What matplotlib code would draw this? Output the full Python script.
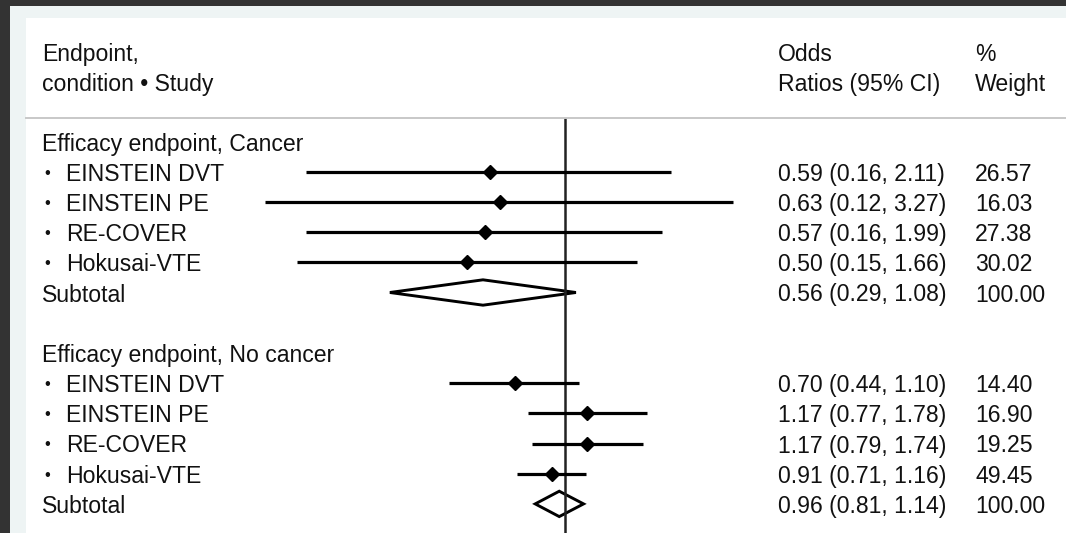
"""Forest plot: odds ratios by cancer status."""

import matplotlib
matplotlib.use("Agg")
import matplotlib.pyplot as plt
import matplotlib as mpl
from matplotlib.patches import Rectangle, Polygon
from matplotlib.transforms import blended_transform_factory

mpl.rcParams.update({
    "font.family": ["Liberation Sans", "DejaVu Sans"],
    "font.size": 16.6,
    "text.color": "#111111",
})

studies = ["EINSTEIN DVT", "EINSTEIN PE", "RE-COVER", "Hokusai-VTE"]

cancer_or = [0.59, 0.63, 0.57, 0.50]
cancer_lo = [0.16, 0.12, 0.16, 0.15]
cancer_hi = [2.11, 3.27, 1.99, 1.66]
cancer_w = [26.57, 16.03, 27.38, 30.02]
cancer_sub = (0.56, 0.29, 1.08)

nocancer_or = [0.70, 1.17, 1.17, 0.91]
nocancer_lo = [0.44, 0.77, 0.79, 0.71]
nocancer_hi = [1.10, 1.78, 1.74, 1.16]
nocancer_w = [14.40, 16.90, 19.25, 49.45]
nocancer_sub = (0.96, 0.81, 1.14)

groups = [
    ("Efficacy endpoint, Cancer", cancer_or, cancer_lo, cancer_hi, cancer_w, cancer_sub),
    ("Efficacy endpoint, No cancer", nocancer_or, nocancer_lo, nocancer_hi, nocancer_w, nocancer_sub),
]

W, H = 1066, 533
fig = plt.figure(figsize=(W / 100, H / 100), dpi=100, facecolor="white")

# screenshot frame: dark border + pale band
fig.patches.append(Rectangle((0, 0), 1, 1, transform=fig.transFigure,
                             facecolor="#333333", edgecolor="none", zorder=-3))
fig.patches.append(Rectangle((10 / W, 0), 1, 1 - 6 / H, transform=fig.transFigure,
                             facecolor="#eef4f4", edgecolor="none", zorder=-2))
fig.patches.append(Rectangle((26 / W, 0), 1, 1 - 18 / H, transform=fig.transFigure,
                             facecolor="white", edgecolor="none", zorder=-1))

# forest axes (log odds ratio); pixel span chosen so OR=1 lands at x≈565
x0, x1 = 239.2, 761.2
row0, row_h = 141.5, 30.2
top_px = 117.5
ax = fig.add_axes([x0 / W, 0, (x1 - x0) / W, 1 - top_px / H])
ax.set_xscale("log")
ax.set_xlim(0.1, 4.0)
ax.set_ylim((H - row0) / row_h, (top_px - row0) / row_h)
ax.axis("off")
ax.patch.set_alpha(0)

ax.axvline(1.0, color="#222222", linewidth=1.8, zorder=3)

# header separator
fig.add_artist(plt.Line2D([26 / W, 1], [1 - top_px / H] * 2, transform=fig.transFigure,
                          color="#c8c8c8", linewidth=1.4))

# header text
fig.text(42 / W, 1 - 52 / H, "Endpoint,", va="center_baseline")
fig.text(42 / W, 1 - 82 / H, "condition • Study", va="center_baseline")
fig.text(778 / W, 1 - 52 / H, "Odds", va="center_baseline")
fig.text(778 / W, 1 - 82 / H, "Ratios (95% CI)", va="center_baseline")
fig.text(975 / W, 1 - 52 / H, "%", va="center_baseline")
fig.text(975 / W, 1 - 82 / H, "Weight", va="center_baseline")

tr = blended_transform_factory(fig.transFigure, ax.transData)
half_h = 0.42

row = 0
for label, ors, los, his, ws, sub in groups:
    fig.text(42 / W, row, label, transform=tr, va="center_baseline")
    row += 1
    for name, o, lo, hi, w in zip(studies, ors, los, his, ws):
        ax.plot([lo, hi], [row, row], color="black", linewidth=2.3,
                solid_capstyle="butt", zorder=4)
        ax.plot(o, row, marker="D", markersize=7.2, color="black", zorder=5)
        fig.text(47 / W, row, "•", transform=tr, va="center_baseline",
                 ha="center", fontsize=12)
        fig.text(66 / W, row, name, transform=tr, va="center_baseline")
        fig.text(778 / W, row, f"{o:.2f} ({lo:.2f}, {hi:.2f})", transform=tr,
                 va="center_baseline")
        fig.text(975 / W, row, f"{w:.2f}", transform=tr, va="center_baseline")
        row += 1
    est, lo, hi = sub
    ax.add_patch(Polygon([(lo, row), (est, row - half_h), (hi, row), (est, row + half_h)],
                         closed=True, facecolor="white", edgecolor="black",
                         linewidth=2.1, zorder=2))
    fig.text(42 / W, row, "Subtotal", transform=tr, va="center_baseline")
    fig.text(778 / W, row, f"{est:.2f} ({lo:.2f}, {hi:.2f})", transform=tr,
             va="center_baseline")
    fig.text(975 / W, row, "100.00", transform=tr, va="center_baseline")
    row += 2

fig.savefig("out.png", dpi=100, facecolor=fig.get_facecolor())
